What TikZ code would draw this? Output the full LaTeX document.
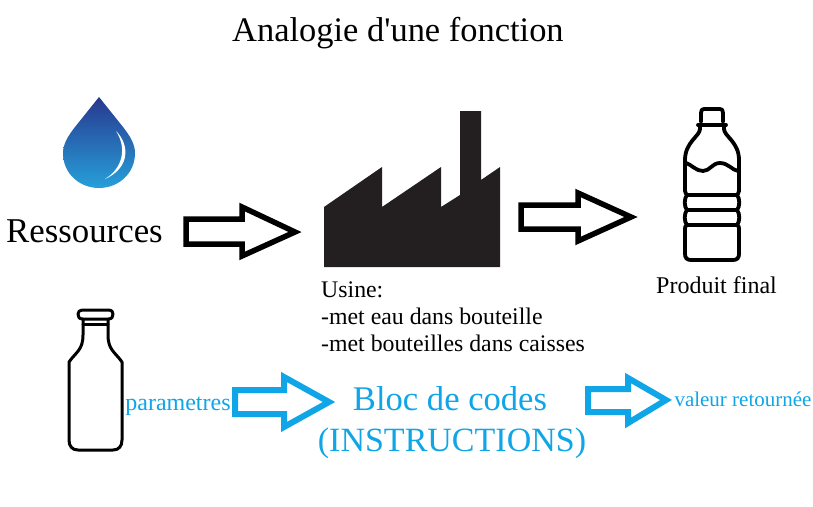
\documentclass[tikz,border=0pt]{standalone}
\usepackage{fontspec}
\setmainfont{Liberation Serif}
\newfontfamily\rawserif{Liberation Serif}
\definecolor{cblue}{HTML}{0FA5E6}
\definecolor{fac}{HTML}{231F20}
\definecolor{droptop}{HTML}{28388F}
\definecolor{dropbot}{HTML}{26A0DA}
\newcommand{\fs}[1]{\fontsize{#1}{#1}\selectfont}
\tikzset{
  bigarrow/.style={draw=black,line width=5.5pt,line join=miter,fill=white},
  bluearrow/.style={draw=cblue,line width=6pt,line join=miter,fill=white},
  icon/.style={draw=black,line width=3.8pt,line join=round,line cap=round},
  txt/.style={inner sep=0pt,anchor=base west,text=black},
  bluetxt/.style={inner sep=0pt,anchor=base,text=cblue}
}
\begin{document}
\begin{tikzpicture}[x=1pt,y=-1pt]
\useasboundingbox (0,0) rectangle (813,506);
\node[txt] (title) at (232,41) {\fs{34.45}\rawserif Analogie d'une fonction};
% drop
\shade[top color=droptop,bottom color=dropbot]
 (99,97) -- (75,127) .. controls (68,136) and (63,144) .. (63,153) .. controls (63,174) and (80,188) .. (99,188)
 .. controls (118,188) and (135,174) .. (135,153) .. controls (135,144) and (130,136) .. (123,127) -- cycle;
\fill[white] (116,131) .. controls (130,145) and (130,168) .. (105,179) .. controls (123,168) and (127,148) .. (116,131) -- cycle;
\node[txt] (res) at (6,242) {\fs{34.8}Ressources};
% arrows
\draw[bigarrow] (186,219) -- (242,219) -- (242,207) -- (295,232) -- (242,256) -- (242,244) -- (186,244) -- cycle;
\draw[bigarrow] (521,205) -- (578,205) -- (578,193) -- (631,217) -- (578,241) -- (578,229) -- (521,229) -- cycle;
% factory
\fill[fac] (324,207) -- (382,167) -- (382,207) -- (441,167) -- (441,207) -- (460,195) -- (460,111) -- (481,111) -- (481,180) -- (500,167) -- (500,267) -- (324,267) -- cycle;
% water bottle
\draw[icon] (701,122) -- (701,113) .. controls (701,110) and (702,109) .. (704,109) -- (720,109) .. controls (722,109) and (723,110) .. (723,113) -- (723,122);
\draw[icon] (698,125) -- (726,125);
\draw[icon] (700,126) -- (700,129) .. controls (700,136) and (685,142) .. (685,160) -- (685,191) .. controls (685,193) and (687,195) .. (687,195) .. controls (684,198) and (684,207) .. (687,210) .. controls (684,213) and (684,222) .. (687,225) .. controls (685,226) and (685,227) .. (685,229) -- (685,254) .. controls (685,258) and (687,260) .. (691,260) -- (733,260) .. controls (737,260) and (739,258) .. (739,254) -- (739,229) .. controls (739,227) and (739,226) .. (737,225) .. controls (740,222) and (740,213) .. (737,210) .. controls (740,207) and (740,198) .. (737,195) .. controls (737,195) and (739,193) .. (739,191) -- (739,160) .. controls (739,142) and (724,136) .. (724,129) -- (724,126);
\draw[icon] (687,195) -- (737,195) (687,210) -- (737,210) (687,225) -- (737,225);
\draw[icon] (686,163) .. controls (692,165) and (696,171) .. (703,171) .. controls (710,171) and (712,163) .. (720,163) .. controls (728,163) and (732,170) .. (738,171);
\node[txt] (prod) at (656,293) {\fs{24}Produit final};
\node[txt] (usine1) at (321,297) {\fs{23.8}Usine:};
\node[txt] (usine2) at (321,324) {\fs{23.8}-met eau dans bouteille};
\node[txt] (usine3) at (321,351) {\fs{23.8}-met bouteilles dans caisses};
% milk bottle
\draw[icon,line width=3pt] (84,310) -- (108,310) .. controls (112,310) and (113,312) .. (113,314) .. controls (113,317) and (112,319) .. (108,319) -- (83,319) .. controls (79,319) and (78,317) .. (78,314) .. controls (78,312) and (79,310) .. (84,310) -- cycle;
\draw[icon,line width=3pt] (83,324) -- (108,324);
\draw[icon,line width=3pt] (83,320) -- (83,335) .. controls (83,350) and (76,352) .. (69,362) -- (69,440) .. controls (69,446) and (72,450) .. (78,450) -- (113,450) .. controls (119,450) and (122,446) .. (122,440) -- (122,362) .. controls (115,352) and (108,350) .. (108,335) -- (108,320);
\node[bluetxt] (par) at (178,410) {\fs{24}parametres};
\draw[bluearrow] (235,390) -- (284,390) -- (284,377) -- (329,402) -- (284,427) -- (284,414) -- (235,414) -- cycle;
\node[bluetxt] (bloc) at (450,410) {\fs{34.6}Bloc de codes};
\node[bluetxt] (instr) at (452,451) {\fs{34}(INSTRUCTIONS)};
\draw[bluearrow] (588,389) -- (628,389) -- (628,378) -- (666,400) -- (628,423) -- (628,412) -- (588,412) -- cycle;
\node[bluetxt] (val) at (743,406) {\fs{21}valeur retournée};
\end{tikzpicture}
\end{document}
